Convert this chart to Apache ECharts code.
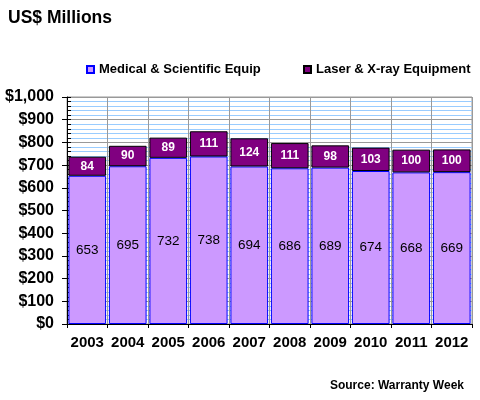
<!DOCTYPE html>
<html>
<head>
<meta charset="utf-8">
<script src="https://cdn.jsdelivr.net/npm/echarts@6/dist/echarts.min.js"></script>
<style>html,body{margin:0;padding:0;background:#fff}#c{width:480px;height:400px}</style>
</head>
<body>
<div id="c"></div>
<script>
var years = ['2003','2004','2005','2006','2007','2008','2009','2010','2011','2012'];
var medical = [653, 695, 732, 738, 694, 686, 689, 674, 668, 669];
var laser = [84, 90, 89, 111, 124, 111, 98, 103, 100, 100];
var seriesNames = ['Medical & Scientific Equip', 'Laser & X-ray Equipment'];
var yTicks = [0, 1000, 100];

var chart = echarts.init(document.getElementById('c'), null, {renderer: 'canvas'});
var font = 'Arial, "Liberation Sans", sans-serif';
chart.setOption({
  animation: false,
  backgroundColor: '#fff',
  textStyle: {fontFamily: font},
  title: {
    text: 'US$ Millions', left: 3, top: 4,
    textStyle: {fontSize: 17.5, fontWeight: 'bold', color: '#000', fontFamily: font}
  },
  graphic: [{
    type: 'text', right: 16, top: 380,
    style: {text: 'Source: Warranty Week', fill: '#000', font: 'bold 12px ' + font}
  }],
  legend: [
    {data: [seriesNames[0]], left: 86, top: 63, padding: 0, itemWidth: 7, itemHeight: 7, icon: 'rect', itemGap: 4,
     textStyle: {fontSize: 13, fontWeight: 'bold', color: '#000', padding: [0,0,0,0]}},
    {data: [seriesNames[1]], left: 303, top: 63, padding: 0, itemWidth: 7, itemHeight: 7, icon: 'rect', itemGap: 4,
     textStyle: {fontSize: 13, fontWeight: 'bold', color: '#000', padding: [0,0,0,0]}}
  ],
  grid: {left: 67, right: 8, top: 97, bottom: 76, show: true, borderColor: '#999', borderWidth: 1, containLabel: false},
  xAxis: {
    type: 'category', data: years,
    axisLine: {lineStyle: {color: '#000', width: 1}},
    axisTick: {show: true, length: 4, interval: 0, lineStyle: {color: '#000'}},
    axisLabel: {fontSize: 15, fontWeight: 'bold', color: '#000', margin: 11, interval: 0},
    splitLine: {show: true, interval: 0, lineStyle: {color: '#999', width: 1}}
  },
  yAxis: [{
    type: 'value', min: yTicks[0], max: yTicks[1], interval: yTicks[2],
    axisLine: {show: true, lineStyle: {color: '#000', width: 1}},
    axisTick: {show: true, length: 5, lineStyle: {color: '#000'}},
    axisLabel: {fontSize: 16, fontWeight: 'bold', color: '#000', margin: 13,
      formatter: function (v) { return '$' + v.toLocaleString('en-US'); }},
    splitLine: {show: true, lineStyle: {color: '#999', width: 1}},
    minorSplitLine: {show: true, lineStyle: {color: '#99CCFF', width: 1}},
    minorTick: {show: false, splitNumber: 5}
  }, {
    type: 'value', min: 0, max: 1000, interval: 20, position: 'left',
    axisLine: {show: false},
    axisTick: {show: true, inside: true, length: 4, lineStyle: {color: '#000'}},
    axisLabel: {show: false},
    splitLine: {show: false}
  }],
  series: [{
    name: seriesNames[0], type: 'bar', stack: 'total', data: medical,
    barCategoryGap: '7%',
    itemStyle: {color: '#CC99FF', borderColor: '#0000FF', borderWidth: 1},
    label: {show: true, position: 'inside', fontSize: 13.5, color: '#000'}
  }, {
    name: seriesNames[1], type: 'bar', stack: 'total', data: laser,
    barCategoryGap: '7%',
    itemStyle: {color: '#800080', borderColor: '#000', borderWidth: 1},
    label: {show: true, position: 'inside', fontSize: 12, fontWeight: 'bold', color: '#fff'}
  }]
});
</script>
</body>
</html>
